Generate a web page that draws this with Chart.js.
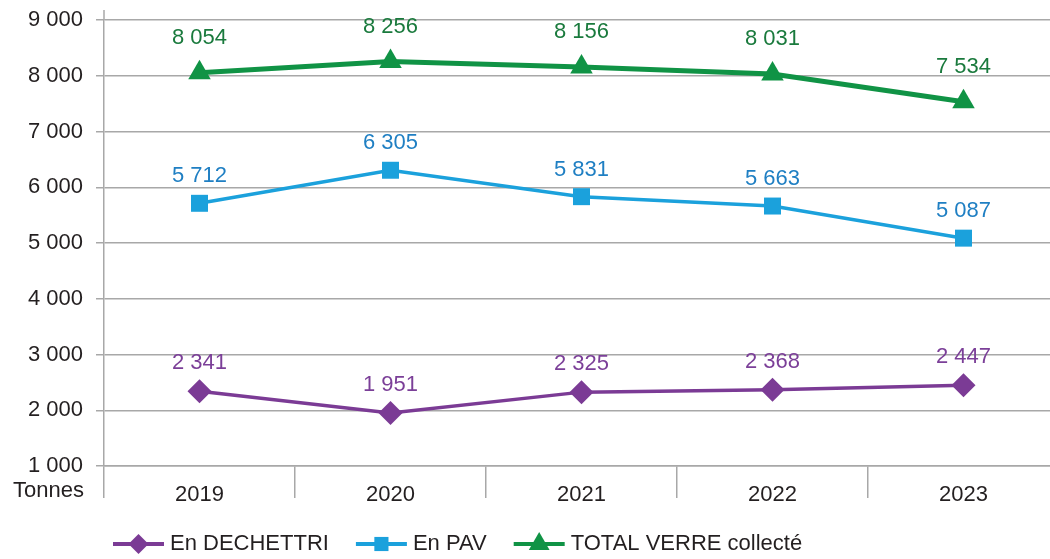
<!DOCTYPE html>
<html>
<head>
<meta charset="utf-8">
<script src="https://cdn.jsdelivr.net/npm/chart.js@4/dist/chart.umd.min.js"></script>
<style>
  html, body { margin: 0; padding: 0; background: #fff; overflow: hidden; }
  #graph { display: block; }
</style>
</head>
<body>
<canvas id="graph" width="1062" height="559"></canvas>
<script>
const years = ["2019", "2020", "2021", "2022", "2023"];
const dechettri = [2341, 1951, 2325, 2368, 2447];
const pav = [5712, 6305, 5831, 5663, 5087];
const totalVerre = [8054, 8256, 8156, 8031, 7534];
const yTicks = [1000, 2000, 3000, 4000, 5000, 6000, 7000, 8000, 9000];

const FONT = "'Liberation Sans', Arial, sans-serif";
const TEXT = "#231f20";
const GRID = "#a8a8a8";

function fmt(n) {
    return n.toString().replace(/\B(?=(\d{3})+(?!\d))/g, " ");
}

// value labels above each point
const valueLabels = {
    id: "valueLabels",
    afterDatasetsDraw(chart) {
        const ctx = chart.ctx;
        ctx.save();
        ctx.font = "22px " + FONT;
        ctx.textAlign = "center";
        ctx.textBaseline = "middle";
        chart.data.datasets.forEach((ds, i) => {
            const meta = chart.getDatasetMeta(i);
            ctx.fillStyle = ds.labelColor;
            meta.data.forEach((pt, j) => {
                ctx.fillText(fmt(ds.data[j]), pt.x, pt.y - ds.labelOffset);
            });
        });
        ctx.restore();
    }
};

// "Tonnes" unit under the y axis + legend at the bottom
const extras = {
    id: "extras",
    afterDraw(chart) {
        const ctx = chart.ctx;
        const area = chart.chartArea;
        ctx.save();
        // y axis line runs a bit above the top grid line
        ctx.strokeStyle = GRID;
        ctx.lineWidth = 1.5;
        ctx.beginPath();
        ctx.moveTo(area.left, area.top - 10);
        ctx.lineTo(area.left, area.top);
        ctx.stroke();

        ctx.font = "22px " + FONT;
        ctx.fillStyle = TEXT;
        ctx.textAlign = "right";
        ctx.textBaseline = "middle";
        ctx.fillText("Tonnes", area.left - 20, area.bottom + 25);

        let x = 113;
        const y = 544;
        ctx.textAlign = "left";
        chart.data.datasets.forEach(ds => {
            ctx.strokeStyle = ds.borderColor;
            ctx.lineWidth = 4;
            ctx.beginPath();
            ctx.moveTo(x, y);
            ctx.lineTo(x + 51, y);
            ctx.stroke();
            ctx.fillStyle = ds.borderColor;
            Chart.helpers.drawPoint(ctx, {
                pointStyle: ds.pointStyle,
                radius: ds.legendRadius,
                rotation: 0,
                borderWidth: 0
            }, x + 25.5, y);
            ctx.fillStyle = TEXT;
            ctx.fillText(ds.label, x + 57, y);
            x += 57 + ctx.measureText(ds.label).width + 27;
        });
        ctx.restore();
    }
};

const ctx = document.getElementById("graph").getContext("2d");

new Chart(ctx, {
    type: "line",
    data: {
        labels: years,
        datasets: [{
            label: "En DECHETTRI",
            data: dechettri,
            borderColor: "#7b3b95",
            backgroundColor: "#7b3b95",
            labelColor: "#7b3f98",
            labelOffset: 28,
            borderWidth: 3.5,
            pointStyle: "rectRot",
            pointRadius: 12,
            legendRadius: 10,
            pointBorderWidth: 0
        }, {
            label: "En PAV",
            data: pav,
            borderColor: "#1ba1dc",
            backgroundColor: "#1ba1dc",
            labelColor: "#1f7fc3",
            labelOffset: 27,
            borderWidth: 3.5,
            pointStyle: "rect",
            pointRadius: 12,
            legendRadius: 10,
            pointBorderWidth: 0
        }, {
            label: "TOTAL VERRE collecté",
            data: totalVerre,
            borderColor: "#109345",
            backgroundColor: "#109345",
            labelColor: "#1a7a3d",
            labelOffset: 35,
            borderWidth: 5,
            pointStyle: "triangle",
            pointRadius: 13,
            legendRadius: 12,
            pointBorderWidth: 0
        }]
    },
    options: {
        responsive: false,
        animation: false,
        layout: { autoPadding: false, padding: { left: 26, top: 20, right: 3, bottom: 53 } },
        plugins: {
            legend: { display: false },
            tooltip: { enabled: false }
        },
        elements: { line: { tension: 0 } },
        scales: {
            x: {
                offset: true,
                grid: {
                    offset: true,
                    drawOnChartArea: false,
                    tickLength: 32,
                    color: GRID,
                    lineWidth: 1.5
                },
                border: { color: GRID, width: 1.5 },
                ticks: {
                    padding: -16,
                    color: TEXT,
                    font: { family: FONT, size: 22 }
                },
                afterFit: scale => { scale.height = 40; }
            },
            y: {
                min: 1000,
                max: 9000,
                afterBuildTicks: scale => { scale.ticks = yTicks.map(v => ({ value: v })); },
                grid: { color: GRID, lineWidth: 1.5, tickLength: 8 },
                border: { color: GRID, width: 1.5 },
                ticks: {
                    padding: 13,
                    color: TEXT,
                    font: { family: FONT, size: 22 },
                    callback: v => fmt(v)
                },
                afterFit: scale => {
                    scale.width = 78;
                    scale.paddingTop = 0;
                    scale.paddingBottom = 0;
                }
            }
        }
    },
    plugins: [valueLabels, extras]
});
</script>
</body>
</html>
